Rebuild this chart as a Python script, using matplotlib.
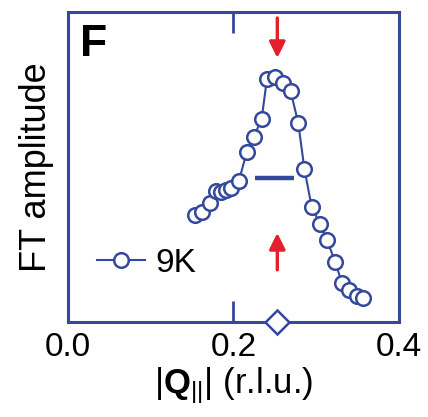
import matplotlib
matplotlib.use("Agg")
import matplotlib.pyplot as plt

plt.rcParams['font.family'] = ['Liberation Sans', 'DejaVu Sans']
plt.rcParams['mathtext.fontset'] = 'custom'
plt.rcParams['mathtext.rm'] = 'Liberation Sans'
plt.rcParams['mathtext.it'] = 'Liberation Sans:italic'
plt.rcParams['mathtext.bf'] = 'Liberation Sans:bold'

BLUE = '#34489c'
RED = '#e51e2b'

# FT amplitude profile at 9 K (arbitrary units)
q = [0.1535, 0.1619, 0.1716, 0.1789, 0.1849, 0.1909, 0.1976, 0.2066,
     0.2160, 0.2248, 0.2341, 0.2405, 0.2502, 0.2602, 0.2691, 0.2783,
     0.2858, 0.2945, 0.3045, 0.3130, 0.3227, 0.3311, 0.3402, 0.3489, 0.3569]
amp = [0.345, 0.356, 0.384, 0.423, 0.419, 0.426, 0.432, 0.455,
       0.548, 0.598, 0.656, 0.785, 0.790, 0.770, 0.745, 0.642,
       0.493, 0.372, 0.316, 0.265, 0.195, 0.127, 0.103, 0.084, 0.076]

q_peak = 0.253
fwhm_q = [0.226, 0.273]
fwhm_amp = 0.4635
xticks = [0.0, 0.2, 0.4]
xticklabels = ['0.0', '0.2', '0.4']

fig = plt.figure(figsize=(4.28, 4.17), dpi=100)
ax = fig.add_axes([0.159, 0.228, 0.773, 0.743])

ax.plot(q, amp, '-o', color=BLUE, lw=1.5, ms=10.5, mfc='white',
        mec=BLUE, mew=1.8, label='9K')
ax.plot(fwhm_q, [fwhm_amp, fwhm_amp], color=BLUE, lw=3.2,
        solid_capstyle='butt')

# peak position marker on the axis
ax.plot([q_peak], [0], 'D', ms=12.5, mfc='white', mec=BLUE, mew=1.8,
        clip_on=False, zorder=5)

arrow = dict(arrowstyle='-|>', color=RED, lw=2.4, mutation_scale=24,
             shrinkA=0, shrinkB=0)
ax.annotate('', xy=(q_peak, 0.852), xytext=(q_peak, 0.981), arrowprops=arrow)
ax.annotate('', xy=(q_peak, 0.287), xytext=(q_peak, 0.168), arrowprops=arrow)

ax.text(0.035, 0.96, 'F', transform=ax.transAxes, fontsize=32,
        fontweight='bold', va='top', ha='left')

ax.set_xlim(0, 0.4)
ax.set_ylim(0, 1)
ax.set_xticks(xticks)
ax.set_xticklabels(xticklabels)
ax.set_yticks([])
ax.tick_params(axis='x', direction='in', length=15, width=2, color=BLUE,
               top=True, labelsize=24, pad=7)
for s in ax.spines.values():
    s.set_color(BLUE)
    s.set_linewidth(2.2)

ax.set_ylabel('FT amplitude', fontsize=26, labelpad=10)
ax.set_xlabel(r'$|\mathbf{Q}_{||}|$ (r.l.u.)', fontsize=25, labelpad=2)

leg = ax.legend(loc='center left', bbox_to_anchor=(0.088, 0.19),
                frameon=False, fontsize=24, handlelength=1.45,
                handletextpad=0.3, borderpad=0, borderaxespad=0)

fig.savefig('out.png', dpi=100)
